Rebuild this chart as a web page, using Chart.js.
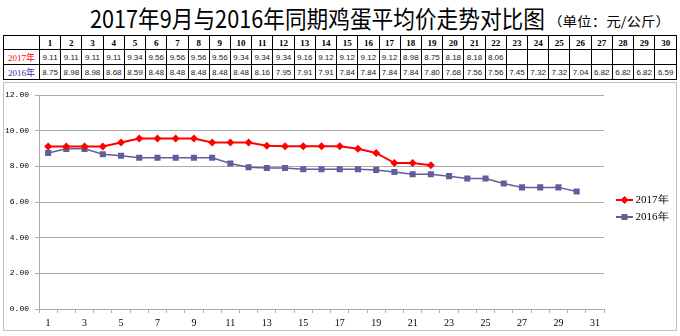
<!DOCTYPE html>
<html>
<head>
<meta charset="utf-8">
<script src="https://cdn.jsdelivr.net/npm/chart.js@4/dist/chart.umd.min.js"></script>
<style>
  body { margin: 0; width: 680px; height: 336px; background: #fff; position: relative; overflow: hidden; }
  .ttl { position: absolute; top: 0; height: 36px; line-height: 36px; white-space: nowrap; transform-origin: 0 50%;
         font-family: "Noto Sans CJK SC", sans-serif; color: #000; }
  #tMain { left: 90px; font-size: 24px; }
  #tUnit { left: 548px; top: 3px; font-size: 13px; }
  #tbl { position: absolute; left: 3px; top: 35px; width: 674px; border-collapse: collapse; table-layout: fixed; }
  #tbl td { border: 1px solid #000; padding: 0; text-align: center; white-space: nowrap; overflow: hidden;
            font-family: "Liberation Sans", "Noto Sans CJK SC", sans-serif; font-size: 8px; color: #222; }
  #tbl tr.head td { font-family: "Liberation Serif", serif; font-weight: bold; font-size: 9px; color: #000; height: 13px; }
  #tbl tr.r17 td, #tbl tr.r16 td { height: 14px; }
  #tbl td.lab { font-family: "Liberation Serif", "Noto Sans CJK SC", serif; font-size: 9px; }
  #box { position: absolute; left: 3px; top: 82px; width: 672px; height: 247px; border: 1px solid #BFBFBF; }
  #box canvas { display: block; }
</style>
</head>
<body>
<div class="ttl" id="tMain">2017年9月与2016年同期鸡蛋平均价走势对比图</div>
<div class="ttl" id="tUnit">（单位：元/公斤）</div>
<table id="tbl"></table>
<div id="box"><canvas id="myChart" width="672" height="247"></canvas></div>
<script>
// 日期（x轴 1-31，表格 1-30）
var days = ['1','2','3','4','5','6','7','8','9','10','11','12','13','14','15','16',
            '17','18','19','20','21','22','23','24','25','26','27','28','29','30','31'];
var series2017 = ['2017年'];
var series2016 = ['2016年'];
// 元/公斤
var price2017 = [9.11, 9.11, 9.11, 9.11, 9.34, 9.56, 9.56, 9.56, 9.56, 9.34, 9.34,
                 9.34, 9.16, 9.12, 9.12, 9.12, 9.12, 8.98, 8.75, 8.18, 8.18, 8.06];
var price2016 = [8.75, 8.98, 8.98, 8.68, 8.59, 8.48, 8.48, 8.48, 8.48, 8.48, 8.16,
                 7.95, 7.91, 7.91, 7.84, 7.84, 7.84, 7.84, 7.80, 7.68, 7.56, 7.56,
                 7.45, 7.32, 7.32, 7.04, 6.82, 6.82, 6.82, 6.59];
var yTicks = [0, 2, 4, 6, 8, 10, 12];

var red = '#FF0000';
var blue = '#5F5F9E';

// 标题字形偏窄，横向压缩到固定宽度
function squeeze(id, w) {
  var el = document.getElementById(id);
  el.style.transform = 'scaleX(' + (w / el.offsetWidth) + ')';
}
squeeze('tMain', 455);
squeeze('tUnit', 122);

// 数据表
var tbl = document.getElementById('tbl');
var cols = '<colgroup><col style="width:36px">';
for (var i = 0; i < 30; i++) cols += '<col>';
cols += '</colgroup>';
var head = '<tr class="head"><td></td>';
var r17 = '<tr class="r17"><td class="lab" style="color:' + red + '">' + series2017[0] + '</td>';
var r16 = '<tr class="r16"><td class="lab" style="color:#333399">' + series2016[0] + '</td>';
for (var i = 0; i < 30; i++) {
  head += '<td>' + days[i] + '</td>';
  r17 += '<td>' + (price2017[i] !== undefined ? price2017[i].toFixed(2) : '') + '</td>';
  r16 += '<td>' + (price2016[i] !== undefined ? price2016[i].toFixed(2) : '') + '</td>';
}
tbl.innerHTML = cols + head + '</tr>' + r17 + '</tr>' + r16 + '</tr>';

// 图例图标：线 + 标记
function legendIcon(color, shape) {
  var c = document.createElement('canvas');
  c.width = 28; c.height = 12;
  var g = c.getContext('2d');
  g.strokeStyle = color; g.lineWidth = 2;
  g.beginPath(); g.moveTo(10, 6); g.lineTo(27, 6); g.stroke();
  g.fillStyle = color;
  g.beginPath();
  if (shape === 'diamond') {
    g.moveTo(18.5, 2); g.lineTo(22.5, 6); g.lineTo(18.5, 10); g.lineTo(14.5, 6);
  } else {
    g.rect(15.5, 3, 6, 6);
  }
  g.fill();
  return c;
}
var icons = [legendIcon(red, 'diamond'), legendIcon(blue, 'square')];

// 图例整体上移一点
var legendShift = {
  id: 'legendShift',
  beforeDraw: function(chart) {
    chart.legend.top -= 4;
    chart.legend.bottom -= 4;
  }
};

var axisColor = '#ABABAB';
var tickFont = { family: 'Liberation Serif', size: 10 };

var ctx = document.getElementById("myChart").getContext('2d');
var myChart = new Chart(ctx, {
  type: 'line',
  data: {
    labels: days,
    datasets: [{
      label: series2017[0],
      data: price2017,
      borderColor: red,
      backgroundColor: red,
      borderWidth: 2,
      pointStyle: 'rectRot',
      pointRadius: 4,
      pointBorderWidth: 0,
      tension: 0
    }, {
      label: series2016[0],
      data: price2016,
      borderColor: blue,
      backgroundColor: blue,
      borderWidth: 1.5,
      pointStyle: 'rect',
      pointRadius: 4.3,
      pointBorderWidth: 0,
      tension: 0
    }]
  },
  plugins: [legendShift],
  options: {
    responsive: false,
    maintainAspectRatio: false,
    animation: false,
    layout: { padding: { top: 12, bottom: 0, left: 0, right: 0 } },
    plugins: {
      tooltip: { enabled: false },
      legend: {
        position: 'right',
        maxWidth: 72,
        labels: {
          usePointStyle: true,
          pointStyleWidth: 20,
          padding: 6,
          color: '#000',
          font: { family: 'Liberation Serif', size: 11 },
          generateLabels: function(chart) {
            var items = Chart.defaults.plugins.legend.labels.generateLabels(chart);
            items.forEach(function(it, i) { it.pointStyle = icons[i]; });
            return items;
          }
        }
      }
    },
    scales: {
      x: {
        offset: true,
        grid: { offset: true, drawOnChartArea: false, tickLength: 4, color: axisColor },
        border: { color: axisColor },
        ticks: {
          autoSkip: false, maxRotation: 0, padding: 4, color: '#000', font: tickFont,
          callback: function(v, i) { return i % 2 ? '' : this.getLabelForValue(v); }
        },
        afterFit: function(s) { s.height = 21; }
      },
      y: {
        min: yTicks[0],
        max: yTicks[yTicks.length - 1],
        grid: { color: axisColor, tickLength: 4 },
        border: { color: axisColor },
        ticks: {
          stepSize: 2, padding: 6, color: '#000',
          font: { family: 'Liberation Mono', size: 8 },
          callback: function(v) { return v.toFixed(2); }
        },
        afterFit: function(s) { s.width = 35; }
      }
    }
  }
});
</script>
</body>
</html>
